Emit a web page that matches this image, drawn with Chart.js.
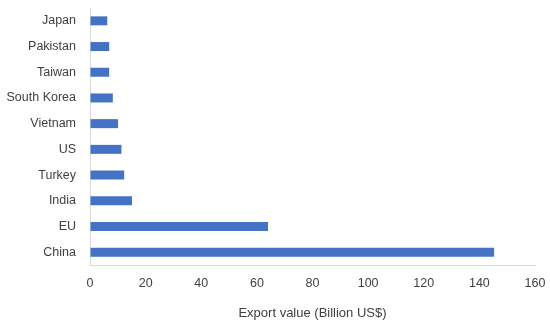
<!DOCTYPE html>
<html><head><meta charset="utf-8">
<script src="https://cdn.jsdelivr.net/npm/chart.js@4"></script>
<style>html,body{margin:0;padding:0;background:#fff}#wrap{width:550px;height:326px}</style>
</head><body><div id="wrap"><canvas id="c" width="550" height="326"></canvas></div>
<script>
const categories = ["Japan","Pakistan","Taiwan","South Korea","Vietnam","US","Turkey","India","EU","China"];
const exportValues = [6.2, 6.9, 6.9, 8.2, 10.1, 11.3, 12.3, 15.1, 64, 145.3];
const xTicks = [0,20,40,60,80,100,120,140,160];
const axisTitle = "Export value (Billion US$)";

const font = {family: "'Liberation Sans', Arial, sans-serif", size: 12.5};
const titleFont = {family: "'Liberation Sans', Arial, sans-serif", size: 13};
new Chart(document.getElementById('c'), {
  type: 'bar',
  data: {labels: categories, datasets: [{data: exportValues, backgroundColor: '#4472C4', categoryPercentage: 0.35, barPercentage: 1}]},
  options: {
    indexAxis: 'y', responsive: false, animation: false,
    layout: {padding: {top: 8, right: 15, left: 0, bottom: 0}},
    plugins: {legend: {display: false}, tooltip: {enabled: false}},
    scales: {
      x: {
        min: 0, max: 160,
        afterBuildTicks: s => { s.ticks = xTicks.map(v => ({value: v})); },
        grid: {display: true, color: 'rgba(0,0,0,0)', drawTicks: false},
        border: {display: true, color: '#d9d9d9', width: 1},
        ticks: {color: '#404040', font: font, padding: 11, maxRotation: 0},
        title: {display: true, text: axisTitle, color: '#404040', font: titleFont, padding: {top: 6, bottom: 5}},
        afterFit: s => { s.height = 61; s.paddingLeft = 0; s.paddingRight = 0; }
      },
      y: {
        grid: {display: true, color: 'rgba(0,0,0,0)', drawTicks: false},
        border: {display: true, color: '#d9d9d9', width: 1},
        ticks: {color: '#404040', font: font, padding: 14},
        afterFit: s => { s.width = 90; s.paddingTop = 0; s.paddingBottom = 0; }
      }
    }
  }
});
</script></body></html>
